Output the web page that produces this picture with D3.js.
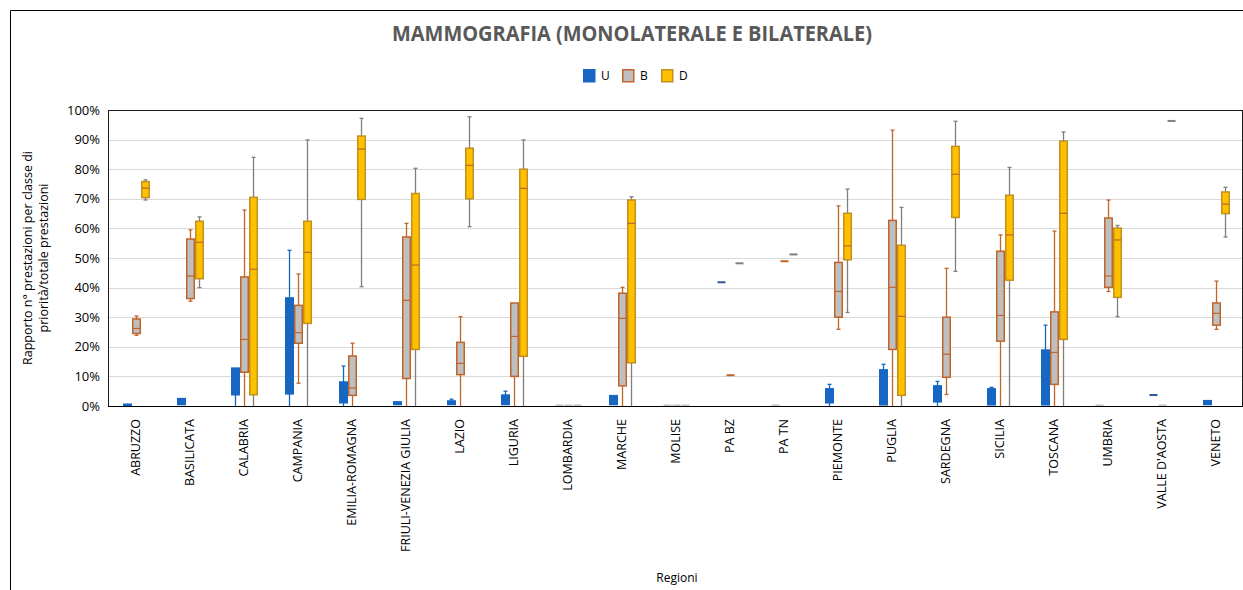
<!DOCTYPE html>
<html>
<head>
<meta charset="utf-8">
<script src="https://cdnjs.cloudflare.com/ajax/libs/d3/7.8.5/d3.min.js"></script>
<style>
  body { margin: 0; background: #fff; }
  text { font-family: "Open Sans", "Liberation Sans", sans-serif; fill: #000; }
</style>
</head>
<body>
<svg id="chart"></svg>
<script>
var width = 1243,
    height = 590;

// regions on the x axis
var regions = ["ABRUZZO", "BASILICATA", "CALABRIA", "CAMPANIA", "EMILIA-ROMAGNA",
  "FRIULI-VENEZIA GIULIA", "LAZIO", "LIGURIA", "LOMBARDIA", "MARCHE", "MOLISE",
  "PA BZ", "PA TN", "PIEMONTE", "PUGLIA", "SARDEGNA", "SICILIA", "TOSCANA",
  "UMBRIA", "VALLE D'AOSTA", "VENETO"];

var seriesNames = ["U", "B", "D"];

// [min, q1, median, q3, max] per region
var valsU = [
  [0, 0.002, 0.004, 0.006, 0.008],
  [0.004, 0.005, 0.02, 0.025, 0.027],
  [0, 0.038, 0.09, 0.128, 0.128],
  [0, 0.041, 0.2, 0.365, 0.526],
  [0, 0.011, 0.05, 0.081, 0.135],
  [0.005, 0.005, 0.01, 0.014, 0.014],
  [0.005, 0.005, 0.012, 0.017, 0.023],
  [0.005, 0.005, 0.02, 0.037, 0.05],
  [0.001, 0.001, 0.002, 0.002, 0.002],
  [0.005, 0.005, 0.02, 0.035, 0.035],
  [0.001, 0.001, 0.002, 0.002, 0.002],
  [0.418, 0.418, 0.418, 0.418, 0.418],
  [0.001, 0.001, 0.002, 0.002, 0.002],
  [0, 0.011, 0.03, 0.058, 0.073],
  [0.004, 0.004, 0.06, 0.122, 0.141],
  [0, 0.014, 0.04, 0.068, 0.083],
  [0.004, 0.004, 0.03, 0.058, 0.063],
  [0.004, 0.004, 0.1, 0.189, 0.273],
  [0.001, 0.001, 0.002, 0.002, 0.002],
  [0.037, 0.037, 0.037, 0.037, 0.037],
  [0.005, 0.005, 0.012, 0.018, 0.02]
];

var valsB = [
  [0.239, 0.245, 0.262, 0.294, 0.304],
  [0.354, 0.363, 0.439, 0.564, 0.595],
  [0, 0.114, 0.225, 0.436, 0.662],
  [0.077, 0.212, 0.248, 0.340, 0.446],
  [0, 0.036, 0.061, 0.169, 0.212],
  [0, 0.093, 0.357, 0.571, 0.617],
  [0, 0.106, 0.144, 0.215, 0.302],
  [0, 0.100, 0.235, 0.348, 0.348],
  [0.001, 0.001, 0.002, 0.002, 0.002],
  [0, 0.068, 0.296, 0.381, 0.401],
  [0.001, 0.001, 0.002, 0.002, 0.002],
  [0.104, 0.104, 0.104, 0.104, 0.104],
  [0.489, 0.489, 0.489, 0.489, 0.489],
  [0.259, 0.300, 0.387, 0.485, 0.676],
  [0, 0.191, 0.401, 0.627, 0.932],
  [0.039, 0.097, 0.175, 0.300, 0.465],
  [0, 0.219, 0.306, 0.523, 0.578],
  [0, 0.073, 0.181, 0.318, 0.591],
  [0.387, 0.401, 0.439, 0.635, 0.696],
  [0.001, 0.001, 0.002, 0.002, 0.002],
  [0.259, 0.273, 0.313, 0.348, 0.422]
];

var valsD = [
  [0.696, 0.704, 0.736, 0.758, 0.764],
  [0.400, 0.430, 0.553, 0.624, 0.639],
  [0, 0.038, 0.462, 0.705, 0.840],
  [0, 0.279, 0.519, 0.624, 0.899],
  [0.403, 0.698, 0.868, 0.912, 0.972],
  [0, 0.191, 0.476, 0.718, 0.803],
  [0.606, 0.700, 0.813, 0.871, 0.977],
  [0, 0.168, 0.735, 0.800, 0.899],
  [0.001, 0.001, 0.002, 0.002, 0.002],
  [0, 0.146, 0.617, 0.696, 0.707],
  [0.001, 0.001, 0.002, 0.002, 0.002],
  [0.482, 0.482, 0.482, 0.482, 0.482],
  [0.512, 0.512, 0.512, 0.512, 0.512],
  [0.316, 0.494, 0.541, 0.651, 0.733],
  [0, 0.036, 0.303, 0.543, 0.671],
  [0.455, 0.637, 0.783, 0.877, 0.962],
  [0, 0.425, 0.578, 0.712, 0.806],
  [0, 0.225, 0.651, 0.895, 0.926],
  [0.302, 0.367, 0.561, 0.601, 0.610],
  [0.963, 0.963, 0.963, 0.963, 0.963],
  [0.571, 0.650, 0.682, 0.723, 0.739]
];

var yTicks = [0, 0.1, 0.2, 0.3, 0.4, 0.5, 0.6, 0.7, 0.8, 0.9, 1];

var styles = {
  U: {fill: "#1767c2", stroke: "#1767c2", whisker: "#1767c2", median: "#1767c2", flat: "#2a5a9a"},
  B: {fill: "#bfbfbf", stroke: "#c0652a", whisker: "#c0652a", median: "#c0652a", flat: "#c0652a"},
  D: {fill: "#ffc000", stroke: "#c2901e", whisker: "#7f7f7f", median: "#c0652a", flat: "#7f7f7f"}
};

var plot = {left: 108, right: 1242, top: 110, bottom: 406};

var svg = d3.select("#chart").attr("width", width).attr("height", height);

// outer frame
svg.append("path")
    .attr("d", "M10.5," + height + "V10.5H" + width)
    .attr("fill", "none")
    .attr("stroke", "#000")
    .attr("stroke-width", 1);

var x = d3.scaleBand().domain(regions).range([plot.left, plot.right]).padding(0);
var xs = d3.scaleBand().domain(seriesNames)
    .range([x.bandwidth() * 0.278, x.bandwidth() * 0.778]).padding(0);
var y = d3.scaleLinear().domain([0, 1]).range([plot.bottom, plot.top]);

// gridlines
svg.append("g").selectAll("line").data(yTicks.slice(1, -1)).join("line")
    .attr("x1", plot.left).attr("x2", plot.right)
    .attr("y1", d => Math.round(y(d)) + 0.5).attr("y2", d => Math.round(y(d)) + 0.5)
    .attr("stroke", "#d9d9d9").attr("stroke-width", 1);

// plot border
svg.append("rect")
    .attr("x", plot.left + 0.5).attr("y", plot.top + 0.5)
    .attr("width", plot.right - plot.left).attr("height", plot.bottom - plot.top)
    .attr("fill", "none").attr("stroke", "#1a1a1a").attr("stroke-width", 1);

// y axis labels
svg.append("g").selectAll("text").data(yTicks).join("text")
    .attr("x", 100).attr("y", d => y(d))
    .attr("dy", "0.35em")
    .attr("text-anchor", "end")
    .attr("font-size", 13)
    .attr("fill", "#000")
    .text(d => d3.format(".0%")(d));

// boxes
var allData = {U: valsU, B: valsB, D: valsD};
seriesNames.forEach(function(s) {
  var st = styles[s],
      bw = xs.bandwidth();
  var g = svg.append("g").selectAll("g").data(allData[s]).join("g")
      .attr("transform", (d, i) => "translate(" + (x(regions[i]) + xs(s)) + ",0)");

  var boxes = g.filter(d => d[3] - d[1] > 0.002),
      flats = g.filter(d => d[3] - d[1] <= 0.002);

  // whisker
  boxes.append("line")
      .attr("x1", bw / 2).attr("x2", bw / 2)
      .attr("y1", d => y(d[4])).attr("y2", d => y(d[0]))
      .attr("stroke", st.whisker).attr("stroke-width", 1.3);
  // caps
  boxes.append("line")
      .attr("x1", bw / 2 - 2).attr("x2", bw / 2 + 2)
      .attr("y1", d => y(d[4])).attr("y2", d => y(d[4]))
      .attr("stroke", st.whisker).attr("stroke-width", 1.3)
      .attr("display", d => d[4] > d[3] + 0.003 ? null : "none");
  boxes.append("line")
      .attr("x1", bw / 2 - 2).attr("x2", bw / 2 + 2)
      .attr("y1", d => y(d[0])).attr("y2", d => y(d[0]))
      .attr("stroke", st.whisker).attr("stroke-width", 1.3)
      .attr("display", d => d[0] < d[1] - 0.003 && d[0] > 0 ? null : "none");
  // box
  boxes.append("rect")
      .attr("x", 0.75).attr("width", bw - 1.5)
      .attr("y", d => y(d[3])).attr("height", d => y(d[1]) - y(d[3]))
      .attr("fill", st.fill).attr("stroke", st.stroke).attr("stroke-width", 1.5);
  // median
  boxes.append("line")
      .attr("x1", 0.75).attr("x2", bw - 0.75)
      .attr("y1", d => y(d[2])).attr("y2", d => y(d[2]))
      .attr("stroke", st.median).attr("stroke-width", 1.2);

  // boxes with no spread: a single short line
  flats.append("line")
      .attr("x1", 0.5).attr("x2", bw - 0.5)
      .attr("y1", d => y(d[2])).attr("y2", d => y(d[2]))
      .attr("stroke", d => d[2] < 0.005 ? "#c8c8c8" : st.flat)
      .attr("stroke-width", 2);
});

// x axis line
svg.append("line")
    .attr("x1", plot.left).attr("x2", plot.right)
    .attr("y1", plot.bottom + 0.5).attr("y2", plot.bottom + 0.5)
    .attr("stroke", "#000").attr("stroke-width", 1.2);

// category labels
svg.append("g").selectAll("text").data(regions).join("text")
    .attr("transform", d => "translate(" + (x(d) + x.bandwidth() / 2 + 1) + ",419) rotate(-90)")
    .attr("dy", "0.35em")
    .attr("text-anchor", "end")
    .attr("font-size", 12.5)
    .text(d => d);

// title
svg.append("text")
    .attr("x", 632).attr("y", 41)
    .attr("text-anchor", "middle")
    .attr("font-size", 21)
    .attr("font-weight", "bold")
    .attr("textLength", 480)
    .attr("lengthAdjust", "spacingAndGlyphs")
    .style("fill", "#595959")
    .text("MAMMOGRAFIA (MONOLATERALE E BILATERALE)");

// legend
var legend = svg.append("g").selectAll("g").data(seriesNames).join("g")
    .attr("transform", (d, i) => "translate(" + (583 + i * 39) + ",69)");
legend.append("rect")
    .attr("x", 0.75).attr("y", 0.75).attr("width", 11).attr("height", 12)
    .attr("fill", d => styles[d].fill)
    .attr("stroke", d => styles[d].stroke).attr("stroke-width", 1.5);
legend.append("text")
    .attr("x", 18).attr("y", 7)
    .attr("dy", "0.35em")
    .attr("font-size", 12)
    .text(d => d);

// axis titles
svg.append("text")
    .attr("transform", "translate(32,258) rotate(-90)")
    .attr("text-anchor", "middle")
    .attr("font-size", 12.5)
    .selectAll("tspan")
    .data(["Rapporto n° prestazioni per classe di", "priorità/totale prestazioni"])
    .join("tspan")
    .attr("x", 0).attr("dy", (d, i) => i === 0 ? 0 : "1.25em")
    .text(d => d);

svg.append("text")
    .attr("x", 677).attr("y", 582)
    .attr("text-anchor", "middle")
    .attr("font-size", 12)
    .text("Regioni");
</script>
</body>
</html>
